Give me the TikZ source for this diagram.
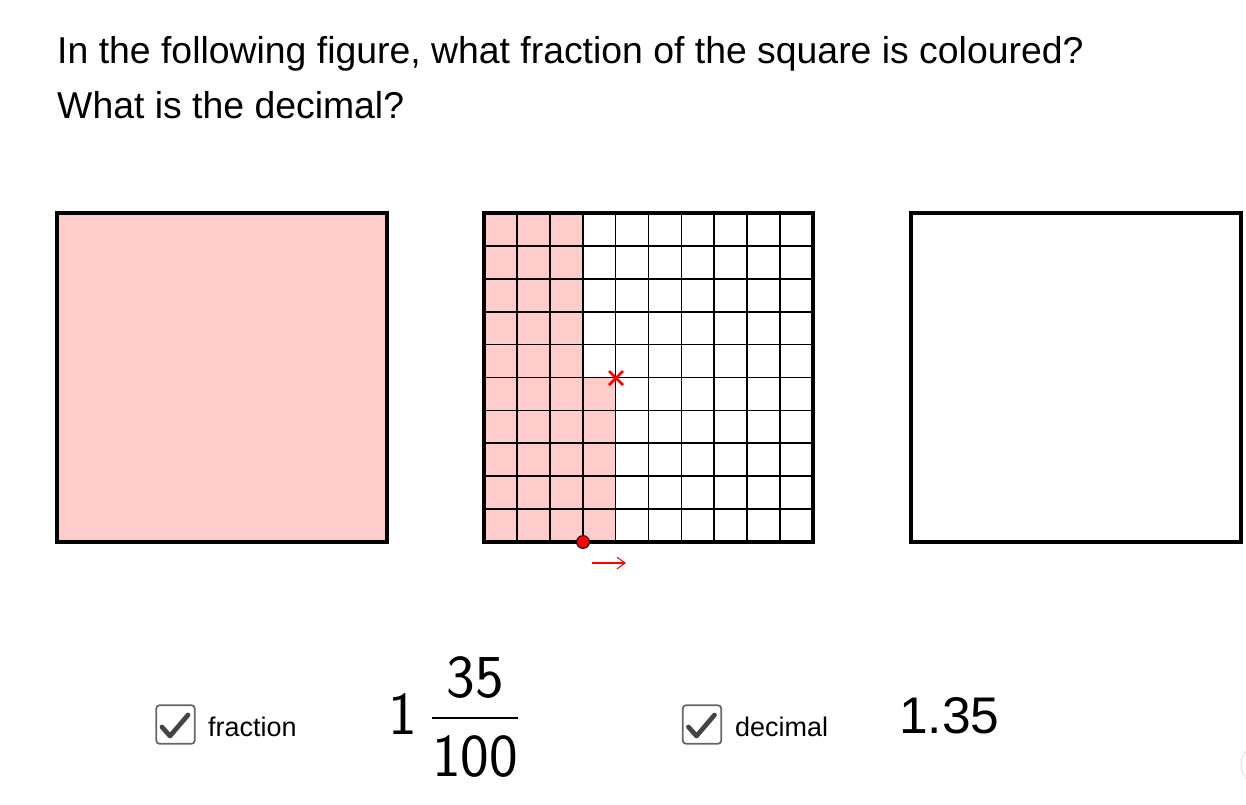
\documentclass[tikz,border=0pt]{standalone}
\usepackage{fontspec}
\setmainfont{Liberation Sans}
\usetikzlibrary{arrows.meta}
\definecolor{pinkfill}{RGB}{255,204,204}
\definecolor{boxgray}{RGB}{102,102,102}
\definecolor{tickgray}{RGB}{68,68,68}
\tikzset{
  txt/.style={inner sep=0pt, anchor=base west},
  square/.style={line width=3.2pt},
  cell/.style={line width=1.4pt},
  tickbox/.style={draw=boxgray, line width=1.5pt, rounded corners=3pt, minimum size=33pt, inner sep=0pt},
  tickmark/.style={draw=tickgray, line width=4pt, line cap=round, line join=round},
  slider/.style={circle, fill=red, draw=black, line width=0.8pt, minimum size=11pt, inner sep=0pt},
  numeral/.style={inner sep=0pt, anchor=base, font=\sffamily\fontsize{52}{60}\selectfont}
}

\begin{document}
\begin{tikzpicture}[x=0.03cm,y=-0.03cm]
\useasboundingbox (0,0) rectangle (1246,805);

\node[txt, font=\fontsize{31.9}{38}\selectfont] (question) at (57,63) {In the following figure, what fraction of the square is coloured?};
\node[txt, font=\fontsize{31.9}{38}\selectfont] (ask) at (57,118) {What is the decimal?};

% whole square
\fill[pinkfill] (57,213) rectangle (387,542);
\draw[square] (57,213) rectangle (387,542);

% hundredths
\fill[pinkfill] (484,213) rectangle (582.7,542);
\fill[pinkfill] (582.7,377.5) rectangle (615.6,542);
\foreach \i in {1,...,9} {
  \draw[cell] ({484+\i*32.9},213) -- ({484+\i*32.9},542);
  \draw[cell] (484,{213+\i*32.9}) -- (813,{213+\i*32.9});
}
\draw[square] (484,213) rectangle (813,542);
\draw[red, line width=2.2pt] (609,371) -- (623,385) (609,385) -- (623,371);
\node[slider] (handle) at (583,542) {};
\coordinate (tail) at (592,563);
\coordinate (head) at (626,563);
\draw[red, line width=0.9pt, -{Straight Barb[length=7pt,width=10pt]}] (tail) -- (head);

% empty square
\draw[square] (911,213) rectangle (1241,542);

% fraction
\node[tickbox] (fracbox) at (175.5,724.5) {};
\draw[tickmark] (162,727) -- (170,736) -- (188,715);
\node[txt, font=\fontsize{23}{28}\selectfont] (fraclabel) at (208,736) {fraction};
\node[numeral] (whole) at (403,734) {1};
\node[numeral] (num) at (475,697) {35};
\node[numeral] (den) at (475,776) {100};
\draw[line width=1.7pt] (432,718) -- (518,718);

% decimal
\node[tickbox] (decbox) at (702,724.5) {};
\draw[tickmark] (688.5,727) -- (696.5,736) -- (714.5,715);
\node[txt, font=\fontsize{23}{28}\selectfont] (declabel) at (735,736) {decimal};
\node[txt, font=\fontsize{44}{50}\selectfont] (value) at (899,733) {1.35};

\draw[gray!20, line width=1pt] (1262,765) circle[radius=21];
\end{tikzpicture}
\end{document}
